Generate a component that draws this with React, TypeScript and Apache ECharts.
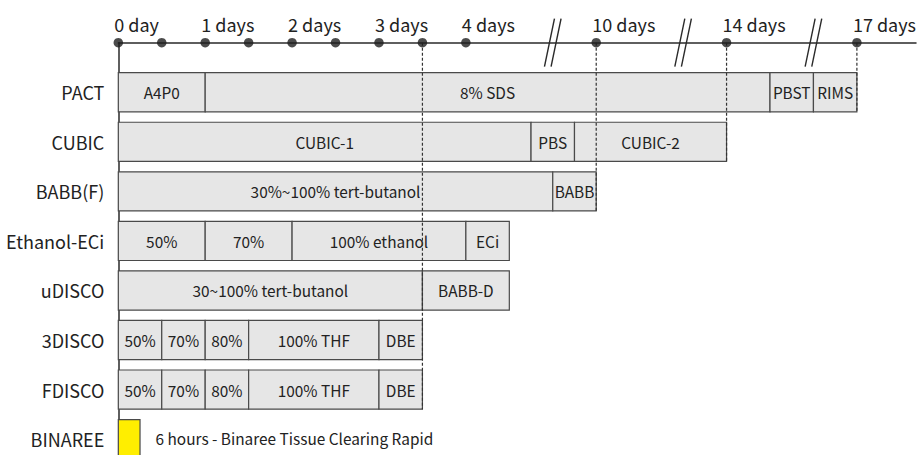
import React, { useEffect, useRef } from "react";
import * as echarts from "echarts";

// Rows (top to bottom)
const categories = ["PACT", "CUBIC", "BABB(F)", "Ethanol-ECi", "uDISCO", "3DISCO", "FDISCO", "BINAREE"];

// Timeline in half-day display units (the axis is broken after 4.5 days)
const tickPositions = [0, 2, 4, 6, 8, 11, 14, 17];
const tickLabels = ["0 day", "1 days", "2 days", "3 days", "4 days", "10 days", "14 days", "17 days"];
const dotPositions = [0, 1, 2, 3, 4, 5, 6, 7, 8, 11, 14, 17];
const breakPositions = [10, 13, 16];

// Segments: [row, start, end, label]
const pactSteps = [[0, 0, 2, "A4P0"], [0, 2, 15, "8% SDS"], [0, 15, 16, "PBST"], [0, 16, 17, "RIMS"]];
const cubicSteps = [[1, 0, 9.5, "CUBIC-1"], [1, 9.5, 10.5, "PBS"], [1, 10.5, 14, "CUBIC-2"]];
const babbSteps = [[2, 0, 10, "30%~100% tert-butanol"], [2, 10, 11, "BABB"]];
const eciSteps = [[3, 0, 2, "50%"], [3, 2, 4, "70%"], [3, 4, 8, "100% ethanol"], [3, 8, 9, "ECi"]];
const udiscoSteps = [[4, 0, 7, "30~100% tert-butanol"], [4, 7, 9, "BABB-D"]];
const disco3Steps = [[5, 0, 1, "50%"], [5, 1, 2, "70%"], [5, 2, 3, "80%"], [5, 3, 6, "100% THF"], [5, 6, 7, "DBE"]];
const fdiscoSteps = [[6, 0, 1, "50%"], [6, 1, 2, "70%"], [6, 2, 3, "80%"], [6, 3, 6, "100% THF"], [6, 6, 7, "DBE"]];
const binareeSteps = [[7, 0, 0.5, ""]];
const binareeNote = "6 hours - Binaree Tissue Clearing Rapid";

// Dashed guides: [position, last row reached]
const guides = [[7, 6], [11, 2], [14, 1], [17, 0]];

const FONT = '"Noto Sans CJK KR", "Noto Sans", sans-serif';

export default function App() {
  const ref = useRef<HTMLDivElement>(null);

  useEffect(() => {
    if (!ref.current) return;
    const chart = echarts.init(ref.current, undefined, { renderer: "svg", width: 919, height: 455 });

    const grey = [...pactSteps, ...cubicSteps, ...babbSteps, ...eciSteps, ...udiscoSteps, ...disco3Steps, ...fdiscoSteps];
    const segs = [
      ...grey.map((s) => ({ value: [s[0], s[1], s[2]], label: s[3] as string, fill: "#e6e6e6", note: "" })),
      ...binareeSteps.map((s) => ({ value: [s[0], s[1], s[2]], label: s[3] as string, fill: "#ffee00", note: binareeNote })),
    ];

    const option: any = {
      animation: false,
      grid: { left: 118.3, width: 800.7, top: 42.7, bottom: 0, containLabel: false },
      xAxis: {
        type: "value",
        position: "top",
        min: 0,
        max: 18.36,
        interval: 1,
        axisLine: { show: true, onZero: false, lineStyle: { color: "#2a2a2a", width: 1.5 } },
        axisTick: { show: false },
        splitLine: { show: false },
        axisLabel: {
          show: true,
          align: "left",
          margin: 10,
          fontSize: 18,
          fontFamily: FONT,
          color: "#222",
          padding: [0, 0, 0, -4],
          showMinLabel: true,
          showMaxLabel: true,
          hideOverlap: false,
          formatter: (v: number) => {
            const i = tickPositions.indexOf(Math.round(v * 100) / 100);
            return i >= 0 ? tickLabels[i] : "";
          },
        },
      },
      yAxis: {
        type: "value",
        inverse: true,
        min: -1,
        max: 7.32,
        interval: 1,
        axisLine: { show: true, onZero: false, lineStyle: { color: "#2a2a2a", width: 1.5 } },
        axisTick: { show: false },
        splitLine: { show: false },
        axisLabel: {
          margin: 14,
          fontSize: 18,
          fontFamily: FONT,
          color: "#222",
          formatter: (v: number) => {
            const r = Math.round(v);
            return Math.abs(v - r) < 1e-6 && r >= 0 && r < categories.length ? categories[r] : "";
          },
        },
      },
      series: [
        {
          type: "custom",
          name: "steps",
          data: segs.map((s) => s.value),
          z: 2,
          renderItem: (params: any, api: any) => {
            const seg = segs[params.dataIndex];
            const row = api.value(0);
            const p0 = api.coord([api.value(1), row]);
            const p1 = api.coord([api.value(2), row]);
            const h = api.size([0, 1])[1] * 0.79;
            const children: any[] = [
              {
                type: "rect",
                shape: { x: p0[0], y: p0[1] - h / 2, width: p1[0] - p0[0], height: h },
                style: { fill: seg.fill, stroke: "#4a4a4a", lineWidth: 1.2 },
              },
            ];
            if (seg.label) {
              children.push({
                type: "text",
                style: {
                  text: seg.label,
                  x: (p0[0] + p1[0]) / 2,
                  y: p0[1],
                  align: "center",
                  verticalAlign: "middle",
                  fill: "#222",
                  fontSize: 15.4,
                  fontFamily: FONT,
                },
              });
            }
            if (seg.note) {
              children.push({
                type: "text",
                style: {
                  text: seg.note,
                  x: p1[0] + 15.5,
                  y: p0[1] - 1.5,
                  align: "left",
                  verticalAlign: "middle",
                  fill: "#222",
                  fontSize: 15.4,
                  fontFamily: FONT,
                },
              });
            }
            return { type: "group", children };
          },
        },
        {
          type: "custom",
          name: "guides",
          data: guides,
          z: 3,
          renderItem: (params: any, api: any) => {
            const x = api.value(0);
            const row = api.value(1);
            const top = api.coord([x, -1]);
            const bot = api.coord([x, row]);
            const h = api.size([0, 1])[1] * 0.79;
            return {
              type: "line",
              shape: { x1: top[0], y1: top[1], x2: bot[0], y2: bot[1] + h / 2 },
              style: { stroke: "#333", lineWidth: 1.2, lineDash: [3, 2] },
            };
          },
        },
        {
          type: "custom",
          name: "breaks",
          data: breakPositions.map((x) => [x, -1]),
          z: 4,
          renderItem: (params: any, api: any) => {
            const p = api.coord([api.value(0), api.value(1)]);
            return {
              type: "group",
              children: [-3.3, 3.3].map((d) => ({
                type: "line",
                shape: { x1: p[0] + d + 5, y1: p[1] - 24, x2: p[0] + d - 5, y2: p[1] + 24 },
                style: { stroke: "#2a2a2a", lineWidth: 1.4 },
              })),
            };
          },
        },
        {
          type: "scatter",
          name: "dots",
          data: dotPositions.map((x) => [x, -1]),
          symbol: "circle",
          symbolSize: 9.5,
          clip: false,
          z: 5,
          itemStyle: { color: "#1e1e1e" },
        },
      ],
    };

    chart.setOption(option);
    return () => chart.dispose();
  }, []);

  return (
    <div
      ref={ref}
      style={{ position: "absolute", left: 0, top: 0, width: 919, height: 455, background: "#fff" }}
    />
  );
}
